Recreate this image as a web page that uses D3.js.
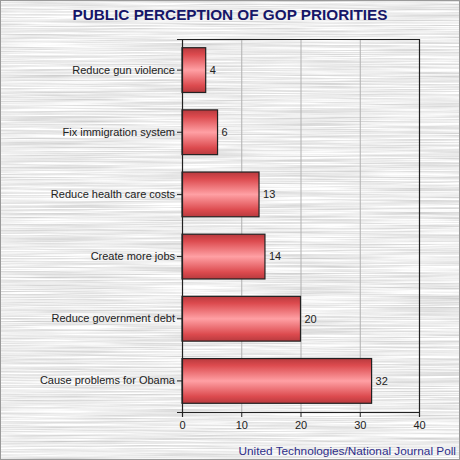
<!DOCTYPE html>
<html><head><meta charset="utf-8">
<script src="https://cdn.jsdelivr.net/npm/d3@7"></script>
<style>html,body{margin:0;padding:0;background:#fff;}svg{display:block;}</style>
</head><body>
<script>
const categories = ["Reduce gun violence","Fix immigration system","Reduce health care costs","Create more jobs","Reduce government debt","Cause problems for Obama"];
const values = [4, 6, 13, 14, 20, 32];
const xTicks = [0, 10, 20, 30, 40];
const title = "PUBLIC PERCEPTION OF GOP PRIORITIES";
const source = "United Technologies/National Journal Poll";

const W = 460, H = 460;
const m = {left: 182, right: 41, top: 39, bottom: 48};
const svg = d3.select("body").append("svg").attr("width", W).attr("height", H);
const defs = svg.append("defs");

// brushed metal filter
const f = defs.append("filter").attr("id","brush").attr("x",0).attr("y",0).attr("width","100%").attr("height","100%")
 .attr("color-interpolation-filters","sRGB");
f.append("feTurbulence").attr("type","fractalNoise").attr("baseFrequency","0.008 0.7").attr("numOctaves",3).attr("seed",5).attr("result","n");
f.append("feColorMatrix").attr("in","n").attr("type","matrix")
 .attr("values","0.32 0 0 0 0.77  0.32 0 0 0 0.77  0.32 0 0 0 0.77  0 0 0 0 1");

svg.append("rect").attr("width",W).attr("height",H).attr("fill","#e6e6e6").attr("filter","url(#brush)");
svg.append("rect").attr("x",0.5).attr("y",0.5).attr("width",W-1).attr("height",H-1).attr("fill","none").attr("stroke","#999");

const barGrad = defs.append("linearGradient").attr("id","barg").attr("x1",0).attr("y1",0).attr("x2",0).attr("y2",1);
[["0","#b83a3e"],["0.15","#dc4a4e"],["0.5","#ffa0a4"],["0.85","#dc4a4e"],["1","#b83a3e"]]
 .forEach(([o,c])=>barGrad.append("stop").attr("offset",o).attr("stop-color",c));

const x = d3.scaleLinear().domain([0, 40]).range([m.left, W - m.right]);
const y = d3.scaleBand().domain(categories).range([m.top, H - m.bottom]).paddingInner(0.28).paddingOuter(0.14);

// title
svg.append("text").attr("x", 230).attr("y", 20).attr("text-anchor","middle")
 .attr("font-family","Liberation Sans, Arial, sans-serif").attr("font-weight","bold").attr("font-size",15.3)
 .attr("fill","#161668").text(title);

// gridlines
svg.append("g").selectAll("line").data(xTicks.filter(t=>t>0 && t<40)).join("line")
 .attr("x1",d=>x(d)+0.5).attr("x2",d=>x(d)+0.5).attr("y1",m.top).attr("y2",H-m.bottom)
 .attr("stroke","#b0b0b0").attr("stroke-width",1);

// plot border (top/right)
svg.append("path").attr("d",`M${m.left},${m.top+0.5}H${W-m.right+0.5}V${H-m.bottom}`)
 .attr("fill","none").attr("stroke","#222").attr("stroke-width",1.2);

// bars
svg.append("g").selectAll("rect").data(values).join("rect")
 .attr("x", x(0)).attr("y",(d,i)=>y(categories[i]))
 .attr("width", d=>x(d)-x(0)).attr("height", y.bandwidth())
 .attr("fill","url(#barg)").attr("stroke","#222").attr("stroke-width",1.2);

// value labels
svg.append("g").selectAll("text").data(values).join("text")
 .attr("x", d=>x(d)+4).attr("y",(d,i)=>y(categories[i])+y.bandwidth()/2)
 .attr("dy","0.35em").attr("font-family","Liberation Sans, Arial, sans-serif").attr("font-size",11)
 .attr("fill","#222").text(d=>d);

// axes
const xAxis = svg.append("g").attr("transform",`translate(0,${H-m.bottom})`)
 .call(d3.axisBottom(x).tickValues(xTicks).tickSize(5).tickPadding(4));
const yAxis = svg.append("g").attr("transform",`translate(${m.left},0)`)
 .call(d3.axisLeft(y).tickSize(5).tickPadding(2));
[xAxis, yAxis].forEach(g=>{
  g.select(".domain").attr("stroke","#222").attr("stroke-width",1.2);
  g.selectAll(".tick line").attr("stroke","#222");
  g.selectAll("text").attr("font-family","Liberation Sans, Arial, sans-serif").attr("font-size",11).attr("fill","#222");
});

// source
svg.append("text").attr("x", 456).attr("y", 455).attr("text-anchor","end")
 .attr("font-family","Liberation Sans, Arial, sans-serif").attr("font-size",11.8)
 .attr("fill","#2e2e8a").text(source);
</script>
</body></html>
